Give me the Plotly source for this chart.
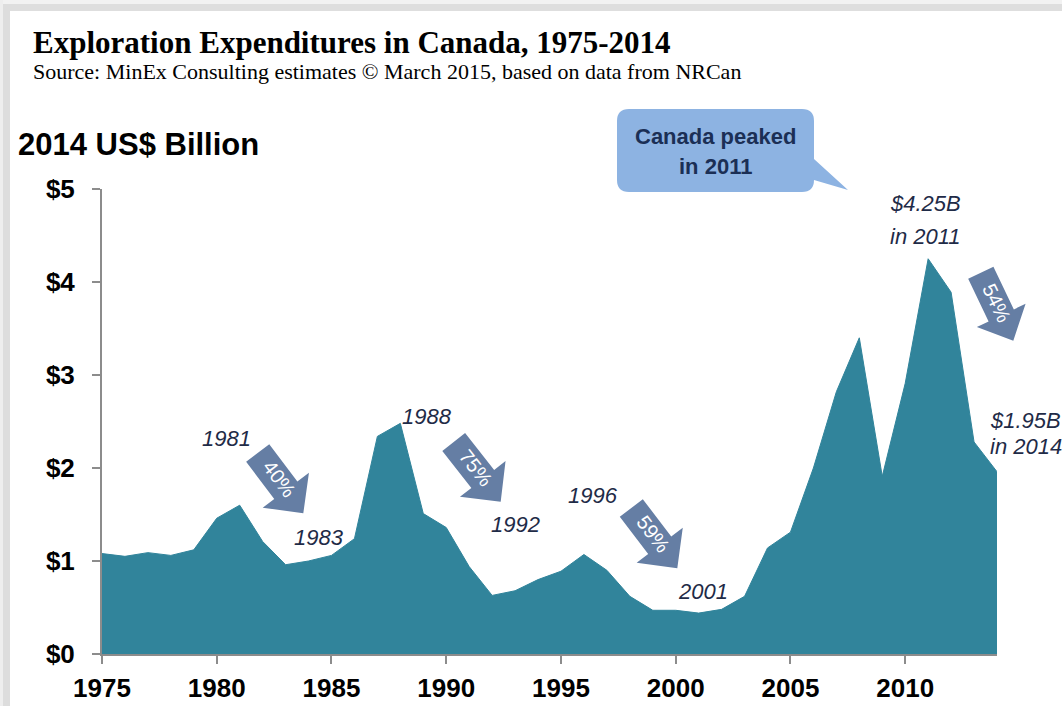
import math
import plotly.graph_objects as go

# ---------------- data ----------------
years = list(range(1975, 2015))
spend_busd = [1.08, 1.05, 1.09, 1.06, 1.12, 1.46, 1.60, 1.21, 0.96, 1.00,
              1.06, 1.24, 2.34, 2.48, 1.51, 1.36, 0.94, 0.63, 0.68, 0.80,
              0.89, 1.07, 0.90, 0.62, 0.47, 0.47, 0.44, 0.48, 0.62, 1.14,
              1.31, 2.00, 2.82, 3.40, 1.91, 2.91, 4.25, 3.89, 2.28, 1.96]
y_tick_vals = [0, 1, 2, 3, 4, 5]
y_tick_text = ["$0", "$1", "$2", "$3", "$4", "$5"]
x_tick_vals = [1975, 1980, 1985, 1990, 1995, 2000, 2005, 2010]
x_tick_text = ["1975", "1980", "1985", "1990", "1995", "2000", "2005", "2010"]
year_labels = ["1981", "1983", "1988", "1992", "1996", "2001"]
drop_labels = ["40%", "75%", "59%", "54%"]
peak_labels = ["$4.25B", "in 2011"]
last_labels = ["$1.95B", "in 2014"]
bubble_lines = ["Canada peaked", "in 2011"]

# ---------------- layout geometry (pixels) ----------------
W, H = 1062, 706
L, R, T, B = 102, 997, 189, 654


def fx(px):
    return (px - L) / (R - L)


def fy(py):
    return (B - py) / (B - T)


def pt(px, py):
    return f"{fx(px):.5f},{fy(py):.5f}"


FILL = "#31849B"
AXIS = "#8c8c8c"
ARROW = "#657ea4"
LABEL = "#1f2b47"
SANS = "Liberation Sans, Arial, sans-serif"
SERIF = "Liberation Serif, Times New Roman, serif"

fig = go.Figure(
    go.Scatter(x=years, y=spend_busd, mode="lines", fill="tozeroy",
               fillcolor=FILL, line=dict(color=FILL, width=1),
               hoverinfo="skip")
)

shapes = []
# card shadow / border strips
for (x0, x1, y0, y1, c) in [(0, W, 0, 4, "#f2f2f2"), (0, W, 4, 11, "#dedede"),
                            (0, 3, 0, H, "#eeeeee"), (3, 10, 4, H, "#dddddd")]:
    shapes.append(dict(type="rect", xref="paper", yref="paper",
                       x0=fx(x0), x1=fx(x1), y0=fy(y1), y1=fy(y0),
                       fillcolor=c, line=dict(width=0), layer="below"))


def block_arrow(tail, tip, shaft_w, head_w, head_len):
    dx, dy = tip[0] - tail[0], tip[1] - tail[1]
    ln = math.hypot(dx, dy)
    ux, uy = dx / ln, dy / ln
    nx, ny = uy, -ux
    bx, by = tip[0] - ux * head_len, tip[1] - uy * head_len
    pts = [
        (tail[0] + nx * shaft_w / 2, tail[1] + ny * shaft_w / 2),
        (bx + nx * shaft_w / 2, by + ny * shaft_w / 2),
        (bx + nx * head_w / 2, by + ny * head_w / 2),
        tip,
        (bx - nx * head_w / 2, by - ny * head_w / 2),
        (bx - nx * shaft_w / 2, by - ny * shaft_w / 2),
        (tail[0] - nx * shaft_w / 2, tail[1] - ny * shaft_w / 2),
    ]
    return "M " + " L ".join(pt(*p) for p in pts) + " Z"


arrow_geo = [
    ((257.7, 453.0), (303.3, 513.3), 29, 58, 29),
    ((453.7, 442.0), (500.7, 501.7), 29, 58, 29),
    ((631.3, 508.0), (677.3, 568.3), 29, 58, 29),
    ((980.8, 272.7), (1013.3, 340.7), 28, 54, 28),
]
annotations = []
for lab, (tail, tip, sw, hw, hl) in zip(drop_labels, arrow_geo):
    shapes.append(dict(type="path", xref="paper", yref="paper",
                       path=block_arrow(tail, tip, sw, hw, hl),
                       fillcolor=ARROW, line=dict(width=0)))
    dx, dy = tip[0] - tail[0], tip[1] - tail[1]
    ln = math.hypot(dx, dy)
    ux, uy = dx / ln, dy / ln
    cx, cy = tail[0] + ux * 34 + uy * 1.5, tail[1] + uy * 34 - ux * 1.5
    ang = math.degrees(math.atan2(dy, dx))
    annotations.append(dict(x=fx(cx), y=fy(cy), xref="paper", yref="paper",
                            text=lab, showarrow=False, textangle=ang,
                            xanchor="center", yanchor="middle",
                            font=dict(family=SANS, size=20, color="white")))

# speech bubble
bx0, bx1, by0, by1, r = 617, 814, 109, 192, 12
bubble = (f"M {pt(bx0 + r, by0)} L {pt(bx1 - r, by0)} Q {pt(bx1, by0)} {pt(bx1, by0 + r)} "
          f"L {pt(bx1, 159)} L {pt(848, 190)} L {pt(bx1, 180)} "
          f"Q {pt(bx1, by1)} {pt(bx1 - r, by1)} L {pt(bx0 + r, by1)} "
          f"Q {pt(bx0, by1)} {pt(bx0, by1 - r)} L {pt(bx0, by0 + r)} "
          f"Q {pt(bx0, by0)} {pt(bx0 + r, by0)} Z")
shapes.append(dict(type="path", xref="paper", yref="paper", path=bubble,
                   fillcolor="#8db3e2", line=dict(width=0)))
for txt, cy in zip(bubble_lines, [136, 167]):
    annotations.append(dict(x=fx(715), y=fy(cy), xref="paper", yref="paper",
                            text=txt, showarrow=False, xanchor="center", yanchor="middle",
                            font=dict(family=SANS, size=22, color="#1b2f55", weight="bold")))

# italic labels
year_pos = [(226, 438), (319, 537), (427, 416), (515, 524), (593, 495), (703, 591)]
for txt, (cx, cy) in zip(year_labels, year_pos):
    annotations.append(dict(x=fx(cx), y=fy(cy), xref="paper", yref="paper",
                            text=txt, showarrow=False, xanchor="center", yanchor="middle",
                            font=dict(family=SANS, size=22, color=LABEL, style="italic")))
for txt, cy in zip(peak_labels, [203, 236]):
    annotations.append(dict(x=fx(925), y=fy(cy), xref="paper", yref="paper",
                            text=txt, showarrow=False, xanchor="center", yanchor="middle",
                            font=dict(family=SANS, size=22, color=LABEL, style="italic")))
for txt, cy in zip(last_labels, [420, 446]):
    annotations.append(dict(x=fx(988), y=fy(cy), xref="paper", yref="paper",
                            text=txt, showarrow=False, xanchor="left", yanchor="middle",
                            font=dict(family=SANS, size=22, color=LABEL, style="italic")))

# titles
annotations.append(dict(x=fx(31), y=fy(42), xref="paper", yref="paper",
                        text="Exploration Expenditures in Canada, 1975-2014",
                        showarrow=False, xanchor="left", yanchor="middle",
                        font=dict(family=SERIF, size=31, color="black", weight="bold")))
annotations.append(dict(x=fx(31), y=fy(71), xref="paper", yref="paper",
                        text="Source: MinEx Consulting estimates © March 2015, based on data from NRCan",
                        showarrow=False, xanchor="left", yanchor="middle",
                        font=dict(family=SERIF, size=22, color="black")))
annotations.append(dict(x=fx(16), y=fy(145), xref="paper", yref="paper",
                        text="2014 US$ Billion", showarrow=False,
                        xanchor="left", yanchor="middle",
                        font=dict(family=SANS, size=31, color="black", weight="bold")))

tickfont = dict(family=SANS, size=26, color="black", weight="bold")
fig.update_layout(
    width=W, height=H,
    margin=dict(l=L, r=W - R, t=T, b=H - B, pad=0, autoexpand=False),
    paper_bgcolor="white", plot_bgcolor="white",
    showlegend=False,
    shapes=shapes,
    annotations=annotations,
    xaxis=dict(range=[1975, 2014], tickvals=x_tick_vals, ticktext=x_tick_text,
               ticks="outside", ticklen=8, tickwidth=2, tickcolor=AXIS,
               showline=True, linecolor=AXIS, linewidth=2,
               showgrid=False, zeroline=False, tickfont=tickfont,
               ticklabelstandoff=2, automargin=False),
    yaxis=dict(range=[0, 5], tickvals=y_tick_vals, ticktext=y_tick_text,
               ticks="outside", ticklen=8, tickwidth=2, tickcolor=AXIS,
               showline=True, linecolor=AXIS, linewidth=2,
               showgrid=False, zeroline=False, tickfont=tickfont,
               ticklabelstandoff=12, automargin=False),
)

fig.write_html("out.html")
